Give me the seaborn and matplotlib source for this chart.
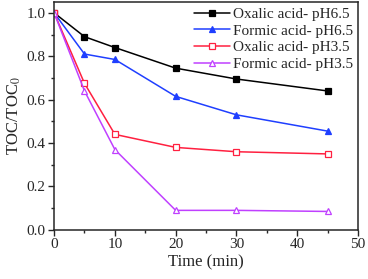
import numpy as np
import pandas as pd
import seaborn as sns
import matplotlib.pyplot as plt
from matplotlib.ticker import MultipleLocator

# data
time = [0, 5, 10, 20, 30, 45]
oxalic_ph65 = [1.0, 0.89, 0.84, 0.745, 0.695, 0.64]
formic_ph65 = [1.0, 0.81, 0.785, 0.615, 0.53, 0.455]
oxalic_ph35 = [1.0, 0.675, 0.44, 0.38, 0.36, 0.35]
formic_ph35 = [1.0, 0.64, 0.37, 0.09, 0.09, 0.085]
labels = ['Oxalic acid- pH6.5', 'Formic acid- pH6.5', 'Oxalic acid- pH3.5', 'Formic acid- pH3.5']

sns.set_style('ticks')
plt.rcParams['font.family'] = ['Liberation Serif', 'DejaVu Serif']
plt.rcParams['mathtext.fontset'] = 'stix'

fig = plt.figure(figsize=(3.68, 2.79), dpi=100)
ax = fig.add_axes([0.147, 0.176, 0.826, 0.817])

series = [oxalic_ph65, formic_ph65, oxalic_ph35, formic_ph35]
colors = ['black', '#1f3fff', '#ff2040', '#c040ff']
markers = ['s', '^', 's', '^']
filled = [True, True, False, False]

for vals, lab, c, m, f in zip(series, labels, colors, markers, filled):
    df = pd.DataFrame({'Time': time, 'TOC': vals})
    sns.lineplot(data=df, x='Time', y='TOC', ax=ax, color=c, marker=m,
                 markersize=5, markerfacecolor=c if f else 'white',
                 markeredgecolor=c, markeredgewidth=0.9, linewidth=1.1, label=lab)

ax.set_xlim(0, 50)
ax.set_ylim(0, 1.05)
ax.xaxis.set_major_locator(MultipleLocator(10))
ax.xaxis.set_minor_locator(MultipleLocator(5))
ax.yaxis.set_major_locator(MultipleLocator(0.2))
ax.yaxis.set_minor_locator(MultipleLocator(0.1))
ax.yaxis.set_major_formatter(plt.FormatStrFormatter('%.1f'))
ax.tick_params(which='major', length=4, width=1, labelsize=11, pad=2)
ax.tick_params(which='minor', length=2.5, width=1)
for s in ax.spines.values():
    s.set_linewidth(1.1)
    s.set_visible(True)

ax.set_xlabel('Time (min)', fontsize=12, labelpad=2)
ax.set_ylabel('TOC/TOC$_0$', fontsize=12, labelpad=3)

ax.legend(loc='upper right', frameon=False, fontsize=11, handlelength=2.3,
          handletextpad=0.2, labelspacing=0.2, borderaxespad=0.15,
          borderpad=0.2)

plt.savefig('out.png', dpi=100)
